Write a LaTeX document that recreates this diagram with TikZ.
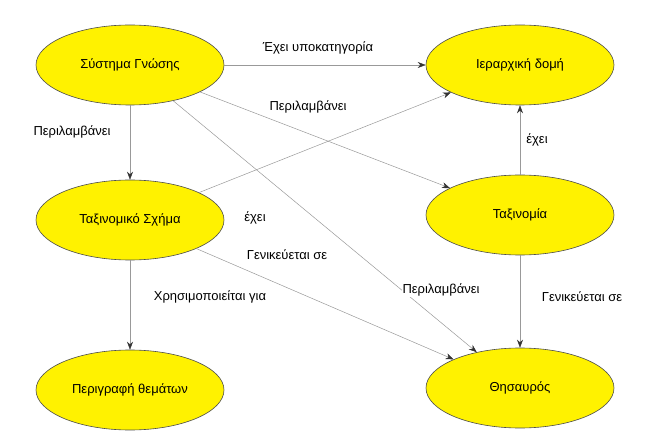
\documentclass[tikz,border=0pt]{standalone}
\usepackage{fontspec}
\setmainfont{Liberation Sans}
\usetikzlibrary{shapes.geometric,arrows.meta}
\begin{document}
\begin{tikzpicture}[x=1pt,y=1pt,
  concept/.style={ellipse,draw=black!70,line width=0.6pt,fill=yellow,minimum width=188pt,minimum height=80pt,font=\fontsize{13}{15}\selectfont},
  rel/.style={draw=black!40,line width=0.5pt,-{Stealth[length=8pt,width=6pt,black!80]}},
  lbl/.style={font=\fontsize{13}{15}\selectfont,fill=white,inner sep=1pt}]
\useasboundingbox (0,0) rectangle (648,445);
\node[concept] (sg) at (130,380) {Σύστημα Γνώσης};
\node[concept] (id) at (520,380) {Ιεραρχική δομή};
\node[concept] (ts) at (130,225) {Ταξινομικό Σχήμα};
\node[concept] (tx) at (520,230) {Ταξινομία};
\node[concept] (pt) at (130,55) {Περιγραφή θεμάτων};
\node[concept] (th) at (520,57) {Θησαυρός};
\draw[rel] (sg) -- (id);
\draw[rel] (sg) -- (tx);
\draw[rel] (sg) -- (ts);
\draw[rel] (sg) -- (th);
\draw[rel] (ts) -- (id);
\draw[rel] (ts) -- (th);
\draw[rel] (ts) -- (pt);
\draw[rel] (tx) -- (id);
\draw[rel] (tx) -- (th);
\node[lbl] (l1) at (318,397) {Έχει υποκατηγορία};
\node[lbl] (l2) at (308,338) {Περιλαμβάνει};
\node[lbl] (l3) at (72,313) {Περιλαμβάνει};
\node[lbl] (l4) at (441,155) {Περιλαμβάνει};
\node[lbl] (l5) at (255,227) {έχει};
\node[lbl] (l6) at (287,190) {Γενικεύεται σε};
\node[lbl] (l7) at (210,148) {Χρησιμοποιείται για};
\node[lbl] (l8) at (537,305) {έχει};
\node[lbl] (l9) at (582,148) {Γενικεύεται σε};
\end{tikzpicture}
\end{document}
